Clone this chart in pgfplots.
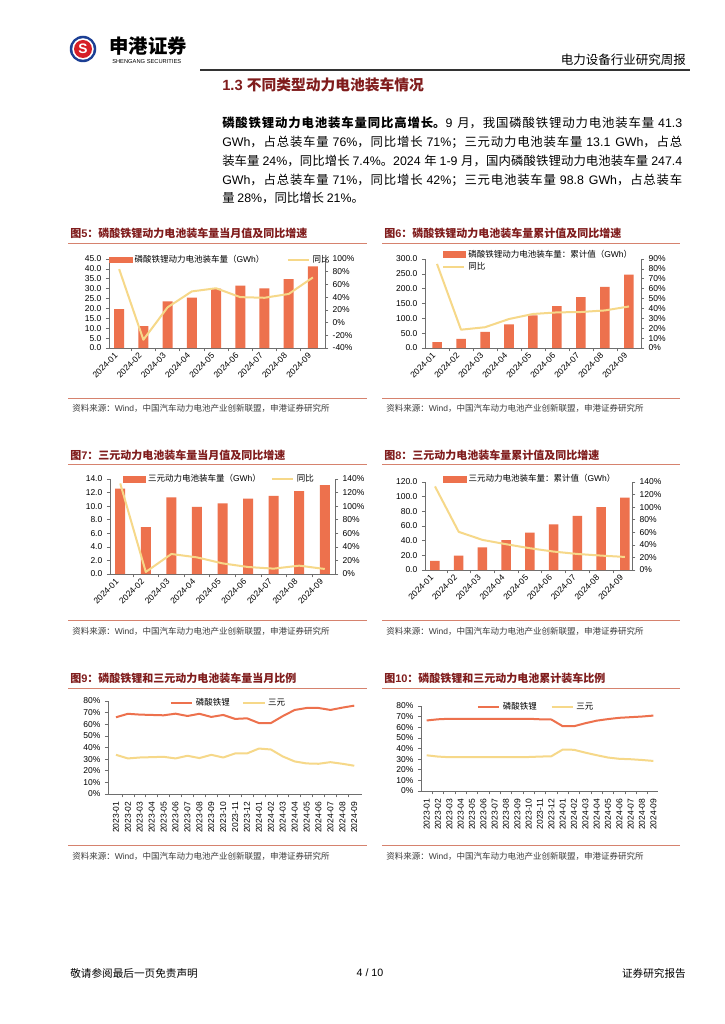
\documentclass[border=0pt]{standalone}
\usepackage{pgfplots}
\pgfplotsset{compat=1.18}
\usepackage{fontspec}
\setmainfont{Liberation Sans}
\newfontfamily\latfont{Liberation Sans}
\newfontfamily\cjkfont{Noto Sans CJK SC}
% switch to the CJK font for Chinese characters, back for Latin ones
\XeTeXlinebreaklocale "zh"
\XeTeXlinebreakskip=0pt plus 0.8pt minus 0.3pt
\newXeTeXintercharclass\cjkclass
\makeatletter
\def\setcjkrange#1#2{\count@=#1\relax
  \loop\XeTeXcharclass\count@=\cjkclass\ifnum\count@<#2\relax\advance\count@ by 1\repeat}
\makeatother
\setcjkrange{"3000}{"303F}
\setcjkrange{"4E00}{"9FFF}
\setcjkrange{"FF00}{"FFEF}
\XeTeXinterchartoks 0 \cjkclass = {\cjkfont}
\XeTeXinterchartoks 4095 \cjkclass = {\cjkfont}
\XeTeXinterchartoks \cjkclass 0 = {\latfont}
\XeTeXinterchartoks 4095 0 = {\latfont}
\XeTeXinterchartokenstate=1

\definecolor{barc}{RGB}{237,113,77}
\definecolor{yl}{RGB}{246,216,137}
\definecolor{tred}{RGB}{128,28,28}
\definecolor{uline}{RGB}{214,130,110}
\definecolor{axc}{RGB}{110,110,110}
\definecolor{srcc}{RGB}{60,60,60}
\definecolor{logoblue}{RGB}{28,63,148}
\definecolor{logored}{RGB}{214,30,38}

\newcommand\tfont{\fontsize{6.8}{7.6}\selectfont}

\pgfplotsset{
  pg/.style={scale only axis, anchor=south west, clip=false,
    axis line style={draw=axc, line width=0.6pt},
    every tick/.style={draw=axc, line width=0.5pt},
    tick align=outside, major tick length=2.6pt, minor tick length=2.6pt,
    ticklabel style={font=\tfont, text=black},
    /pgf/number format/assume math mode=true,
    legend style={draw=none, fill=none, inner sep=0pt, outer sep=0pt,
      font=\tfont, legend cell align=left},
  },
  months/.style={xtick={0,...,8}, xticklabels={2024-01,2024-02,2024-03,2024-04,2024-05,2024-06,2024-07,2024-08,2024-09},
    x tick label style={rotate=45, anchor=east},
    major x tick style={draw=none}, minor xtick={0.5,1.5,...,7.5}},
  long/.style={xtick={0,...,20}, xticklabels={2023-01,2023-02,2023-03,2023-04,2023-05,2023-06,2023-07,2023-08,2023-09,2023-10,2023-11,2023-12,2024-01,2024-02,2024-03,2024-04,2024-05,2024-06,2024-07,2024-08,2024-09},
    x tick label style={rotate=90, anchor=east},
    major x tick style={draw=none}, minor xtick={0.5,1.5,...,19.5}},
  dec/.style={yticklabel style={/pgf/number format/.cd, fixed, fixed zerofill, precision=1}},
  pct/.style={yticklabel={\pgfmathprintnumber{\tick}\%}},
  bars/.style={ybar, bar width=#1, fill=barc, draw=none},
  yline/.style={yl, line width=1.6pt, line join=round, no marks, sharp plot},
  rline/.style={barc, line width=1.6pt, line join=round, no marks, sharp plot},
  barleg/.style={legend image code/.code={\fill[barc] (0pt,-2.2pt) rectangle (18pt,2.2pt);}},
}

\begin{document}
\begin{tikzpicture}
\begin{scope}[x=0.8pt,y=-0.8pt]
\fill[white] (0,0) rectangle (724,1024);
% header
\fill[logoblue] (83,49) circle (10.6pt);
\fill[white] (83,49) circle (8.6pt);
\fill[logored] (83,49) circle (7.2pt);
\node[white, font=\bfseries\fontsize{11}{11}\selectfont, inner sep=0] at (83,49) {S};
\node[anchor=west, inner sep=0, font=\bfseries\fontsize{15.5}{16}\selectfont] at (109,46) {申港证券};
\node[anchor=west, inner sep=0, font=\fontsize{4.6}{5}\selectfont] at (112,62) {SHENGANG SECURITIES};
\node[anchor=east, inner sep=0, font=\fontsize{10}{10}\selectfont] at (686,60) {电力设备行业研究周报};
\draw[line width=0.9pt, black!80] (200,70) -- (690,70);
% section
\node[anchor=west, inner sep=0, text=tred, font=\bfseries\fontsize{11.8}{12}\selectfont] at (222,85) {1.3 不同类型动力电池装车情况};
\node[anchor=north west, inner sep=0pt, text width=368pt, align=justify, font=\fontsize{9.9}{15}\selectfont] at (222,117)
{{\bfseries 磷酸铁锂动力电池装车量同比高增长。}9 月，我国磷酸铁锂动力电池装车量 41.3\linebreak
GWh，占总装车量 76\%，同比增长 71\%；三元动力电池装车量 13.1 GWh，占总\linebreak
装车量 24\%，同比增长 7.4\%。2024 年 1-9 月，国内磷酸铁锂动力电池装车量 247.4\linebreak
GWh，占总装车量 71\%，同比增长 42\%；三元电池装车量 98.8 GWh，占总装车\linebreak
量 28\%，同比增长 21\%。};
% chart titles
\foreach \x/\y/\t in {70/233/{图5：磷酸铁锂动力电池装车量当月值及同比增速},
  384/233/{图6：磷酸铁锂动力电池装车量累计值及同比增速},
  70/455/{图7：三元动力电池装车量当月值及同比增速},
  384/455/{图8：三元动力电池装车量累计值及同比增速},
  70/678/{图9：磷酸铁锂和三元动力电池装车量当月比例},
  384/678/{图10：磷酸铁锂和三元动力电池累计装车比例}}
  {\node[anchor=west, inner sep=0, text=tred, font=\bfseries\fontsize{8.8}{9}\selectfont] at (\x,\y) {\t};}
\foreach \y in {243,464,688} {
  \draw[uline, line width=0.8pt] (68,\y) -- (367,\y);
  \draw[uline, line width=0.8pt] (382,\y) -- (680,\y);}
\foreach \y/\s in {398/408,620/631,845/856} {
  \draw[uline, line width=0.8pt] (68,\y) -- (367,\y);
  \draw[uline, line width=0.8pt] (382,\y) -- (680,\y);
  \node[anchor=west, inner sep=0, text=srcc, font=\tfont] at (72,\s) {资料来源：Wind，中国汽车动力电池产业创新联盟，申港证券研究所};
  \node[anchor=west, inner sep=0, text=srcc, font=\tfont] at (386,\s) {资料来源：Wind，中国汽车动力电池产业创新联盟，申港证券研究所};}
% footer
\node[anchor=west, inner sep=0, font=\fontsize{8.5}{9}\selectfont] at (70,973) {敬请参阅最后一页免责声明};
\node[inner sep=0, font=\fontsize{8.5}{9}\selectfont] at (370,973) {4 / 10};
\node[anchor=east, inner sep=0, font=\fontsize{8.5}{9}\selectfont] at (686,973) {证券研究报告};
\end{scope}

% ---- chart 5
\begin{axis}[pg, months, dec, at={(87.2pt,-278.4pt)}, width=172.8pt, height=71.2pt,
  xmin=-0.42, xmax=8.5, ymin=0, ymax=45, ytick={0,5,...,45},
  axis y line*=left, axis x line*=bottom]
\addplot[bars=8pt] coordinates {(0,19.7) (1,11.0) (2,23.6) (3,25.5) (4,30.0) (5,31.6) (6,30.1) (7,34.8) (8,41.3)};
\end{axis}
\begin{axis}[pg, pct, at={(87.2pt,-278.4pt)}, width=172.8pt, height=71.2pt,
  xmin=-0.42, xmax=8.5, ymin=-40, ymax=100, ytick={-40,-20,...,100},
  axis y line*=right, axis x line=none,
  legend columns=2, legend style={at={(0.0,0.99)}, anchor=west,
    /tikz/every even column/.append style={column sep=16pt}}]
\addlegendimage{barleg}\addlegendentry{磷酸铁锂动力电池装车量（GWh）}
\addplot[yline] coordinates {(0,84) (1,-27) (2,24) (3,49) (4,54) (5,40) (6,39) (7,45) (8,71)};
\addlegendentry{同比}
\end{axis}

% ---- chart 6
\begin{axis}[pg, months, dec, at={(340pt,-278.4pt)}, width=172.8pt, height=71.2pt,
  xmin=-0.5, xmax=8.5, ymin=0, ymax=300, ytick={0,50,...,300},
  axis y line*=left, axis x line*=bottom]
\addplot[bars=7.6pt] coordinates {(0,19.7) (1,30.7) (2,54.3) (3,79.8) (4,109.8) (5,141.4) (6,171.5) (7,206.3) (8,247.4)};
\end{axis}
\begin{axis}[pg, pct, at={(340pt,-278.4pt)}, width=172.8pt, height=71.2pt,
  xmin=-0.5, xmax=8.5, ymin=0, ymax=90, ytick={0,10,...,90},
  axis y line*=right, axis x line=none,
  legend style={at={(0.079,1.13)}, anchor=north west, /tikz/row sep=-1pt}]
\addlegendimage{barleg}\addlegendentry{磷酸铁锂动力电池装车量：累计值（GWh）}
\addplot[yline] coordinates {(0,85) (1,18.5) (2,21) (3,29.3) (4,34.4) (5,36) (6,36.4) (7,38) (8,42)};
\addlegendentry{同比}
\end{axis}

% ---- chart 7
\begin{axis}[pg, months, dec, at={(88pt,-459.2pt)}, width=180pt, height=76pt,
  xmin=-0.4, xmax=8.4, ymin=0, ymax=14, ytick={0,2,...,14},
  axis y line*=left, axis x line*=bottom]
\addplot[bars=8pt] coordinates {(0,12.6) (1,6.9) (2,11.3) (3,9.9) (4,10.4) (5,11.1) (6,11.5) (7,12.2) (8,13.1)};
\end{axis}
\begin{axis}[pg, pct, at={(88pt,-459.2pt)}, width=180pt, height=76pt,
  xmin=-0.4, xmax=8.4, ymin=0, ymax=140, ytick={0,20,...,140},
  axis y line*=right, axis x line=none,
  legend columns=2, legend style={at={(0.056,1.0)}, anchor=west,
    /tikz/every even column/.append style={column sep=6pt}}]
\addlegendimage{barleg}\addlegendentry{三元动力电池装车量（GWh）}
\addplot[yline] coordinates {(0,133.5) (1,3) (2,29.5) (3,24.5) (4,15.7) (5,10.3) (6,7.9) (7,12.3) (8,7.4)};
\addlegendentry{同比}
\end{axis}

% ---- chart 8
\begin{axis}[pg, months, dec, at={(340pt,-456pt)}, width=165.6pt, height=70.4pt,
  xmin=-0.42, xmax=8.3, ymin=0, ymax=120, ytick={0,20,...,120},
  axis y line*=left, axis x line*=bottom,
  legend style={at={(0.087,1.034)}, anchor=west}]
\addlegendimage{barleg}\addlegendentry{三元动力电池装车量：累计值（GWh）}
\addplot[bars=7.6pt, forget plot] coordinates {(0,12.6) (1,19.5) (2,30.8) (3,40.7) (4,51.1) (5,62.2) (6,73.7) (7,85.9) (8,98.8)};
\end{axis}
\begin{axis}[pg, pct, at={(340pt,-456pt)}, width=165.6pt, height=70.4pt,
  xmin=-0.42, xmax=8.3, ymin=0, ymax=140, ytick={0,20,...,140},
  axis y line*=right, axis x line=none]
\addplot[yline] coordinates {(0,133) (1,60.7) (2,47.9) (3,41) (4,34.6) (5,29.3) (6,25.5) (7,22.9) (8,20.8)};
\end{axis}

% ---- chart 9
\begin{axis}[pg, long, pct, at={(86.4pt,-635.2pt)}, width=203.2pt, height=74.4pt,
  xmin=-0.67, xmax=20.65, ymin=0, ymax=80, ytick={0,10,...,80},
  axis y line*=left, axis x line*=bottom,
  legend columns=2, legend style={at={(0.244,0.978)}, anchor=west,
    /tikz/every even column/.append style={column sep=8pt}}]
\addplot[rline] coordinates {(0,66) (1,69) (2,68.3) (3,68) (4,67.7) (5,69.1) (6,67.1) (7,69) (8,66.3) (9,68) (10,64.6) (11,65.1) (12,61) (13,61) (14,67) (15,72.3) (16,74) (17,74) (18,72.3) (19,74.3) (20,76)};
\addlegendentry{磷酸铁锂}
\addplot[yline] coordinates {(0,33.7) (1,30.6) (2,31.4) (3,31.7) (4,32) (5,30.6) (6,32.9) (7,30.9) (8,33.7) (9,31.4) (10,34.9) (11,34.9) (12,39.1) (13,38.3) (14,32.3) (15,28) (16,26.3) (17,26) (18,27.4) (19,26) (20,24.3)};
\addlegendentry{三元}
\end{axis}

% ---- chart 10
\begin{axis}[pg, long, pct, at={(336.8pt,-632.8pt)}, width=189.6pt, height=68pt,
  xmin=-0.5, xmax=20.41, ymin=0, ymax=80, ytick={0,10,...,80},
  axis y line*=left, axis x line*=bottom,
  legend columns=2, legend style={at={(0.236,0.99)}, anchor=west,
    /tikz/every even column/.append style={column sep=9pt}}]
\addplot[rline] coordinates {(0,66.4) (1,67.5) (2,68) (3,68) (4,68) (5,68) (6,68) (7,68) (8,68) (9,68) (10,67.5) (11,67.3) (12,61) (13,61) (14,63.8) (15,66.2) (16,67.7) (17,68.9) (18,69.5) (19,70.1) (20,71)};
\addlegendentry{磷酸铁锂}
\addplot[yline] coordinates {(0,33.6) (1,32.4) (2,31.8) (3,31.8) (4,31.8) (5,31.8) (6,31.8) (7,31.8) (8,32) (9,32) (10,32.4) (11,32.7) (12,39) (13,38.8) (14,36.1) (15,33.7) (16,31.5) (17,30.3) (18,29.9) (19,29.2) (20,28.3)};
\addlegendentry{三元}
\end{axis}
\end{tikzpicture}
\end{document}
